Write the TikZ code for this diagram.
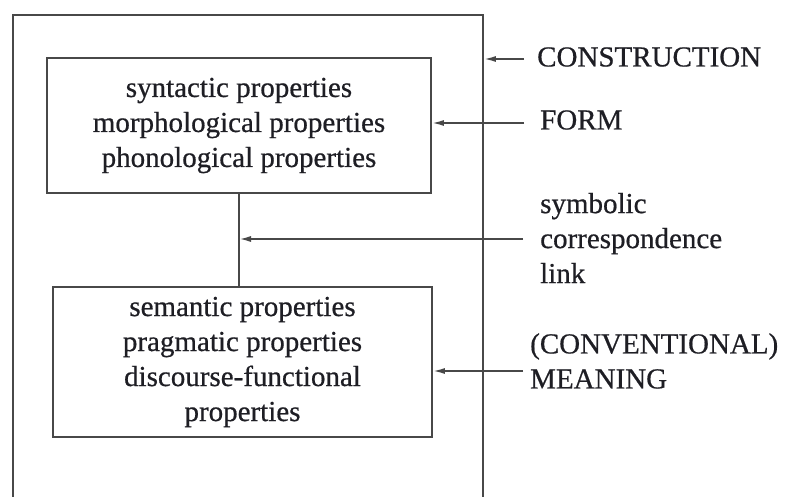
\documentclass[tikz,border=0pt]{standalone}
\usepackage{fontspec}
\setmainfont{Liberation Serif}[FakeBold=0.6]
\usepackage{tikz}
\usetikzlibrary{positioning,arrows.meta}
\definecolor{cInk}{HTML}{1E1E24}
\definecolor{cLine}{HTML}{484848}
\tikzset{
  frame/.style={draw=cLine, line width=1.8bp, inner sep=0pt},
  propbox/.style={frame, align=center, text=cInk,
                  font=\fontsize{29bp}{35bp}\selectfont},
  lbl/.style={anchor=west, align=left, inner sep=0pt, text=cInk,
              font=\fontsize{29bp}{35bp}\selectfont},
  ar/.style={-{Latex[length=12bp,width=6bp]}, draw=cLine, line width=1.8bp}
}
\begin{document}
\begin{tikzpicture}[x=1bp, y=-1bp]
\useasboundingbox (0,0) rectangle (787,497);
\clip (0,0) rectangle (787,497);
% outer construction frame, open at the bottom
\node[frame, minimum width=470bp, minimum height=510bp] (constr) at (248,270) {};
\node[propbox, minimum width=384bp, minimum height=135bp] (form) at (239,125.5)
  {syntactic properties\\morphological properties\\phonological properties};
\node[propbox, minimum width=379bp, minimum height=150bp] (meaning) at (242.5,362)
  {semantic properties\\pragmatic properties\\discourse-functional\\properties};
% labels on the right
\node[lbl] (lblC) at (537,57) {CONSTRUCTION};
\node[lbl] (lblF) at (540,120) {FORM};
\node[lbl] (lblS) at (540,238) {symbolic\\correspondence\\link};
\node[lbl] (lblM) at (530,361) {(CONVENTIONAL)\\MEANING};
\coordinate (tC) at (524,59);
\coordinate (tF) at (524,123);
\coordinate (tS) at (523,239);
\coordinate (tM) at (523,371);
\draw[cLine, line width=1.8bp] (form.south) -- (form.south |- meaning.north);
\draw[ar] (tC) -- (tC -| constr.east);
\draw[ar] (tF) -- (tF -| form.east);
\draw[ar] (tS) -- (tS -| form.south);
\draw[ar] (tM) -- (tM -| meaning.east);
\end{tikzpicture}
\end{document}
